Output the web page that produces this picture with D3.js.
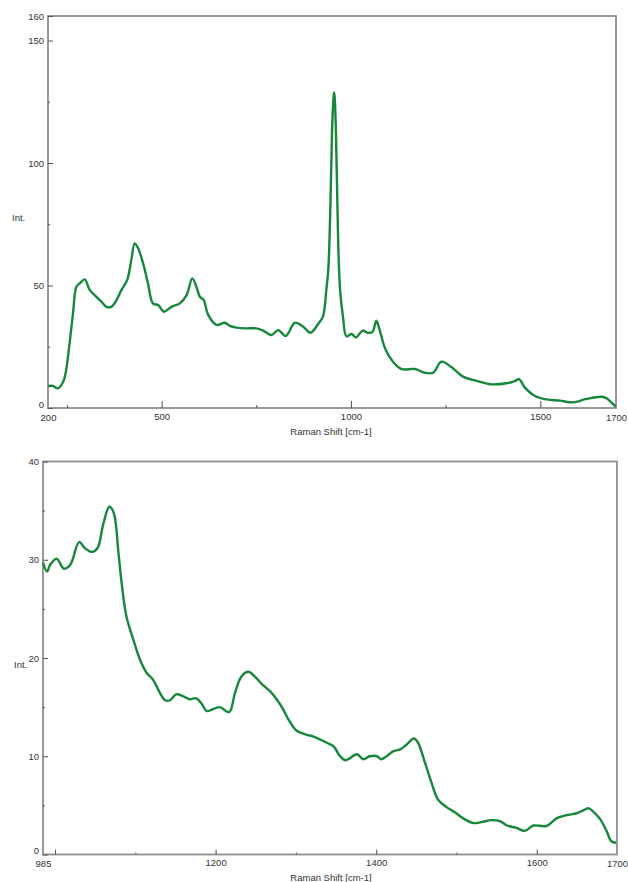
<!DOCTYPE html>
<html>
<head>
<meta charset="utf-8">
<script src="https://cdn.jsdelivr.net/npm/d3@7"></script>
<style>
  body { margin: 0; background: #fff; }
  svg text { font-family: "Liberation Sans", Arial, sans-serif; font-size: 9.5px; fill: #333; }
</style>
</head>
<body>
<script>
// Full spectrum (top panel)
let topShift = [200, 213, 226, 240, 248, 257, 266, 275, 284, 297, 310, 323, 341, 354, 367, 381, 394, 409, 420, 429, 438, 451, 464, 477, 491, 506, 526, 548, 566, 581, 592, 601, 611, 623, 645, 667, 680, 698, 724, 751, 768, 790, 808, 828, 852, 874, 893, 913, 926, 935, 940, 944, 948, 951, 954, 955.5, 957, 960, 963, 966, 969, 972, 979, 988, 1002, 1013, 1031, 1045, 1057, 1067, 1076, 1090, 1111, 1134, 1169, 1195, 1217, 1239, 1266, 1296, 1332, 1367, 1411, 1433, 1444, 1459, 1486, 1517, 1552, 1587, 1622, 1662, 1675, 1697, 1700];
let topInt = [9.0, 9.0, 8.0, 10.7, 15.5, 26.4, 38.6, 49.5, 50.9, 52.5, 48.2, 46.1, 43.4, 41.3, 41.3, 44.1, 48.2, 52.2, 60.4, 67.2, 65.2, 59.1, 50.9, 42.7, 42.0, 39.3, 41.3, 42.7, 46.1, 52.9, 49.5, 45.4, 44.1, 38.0, 33.9, 34.8, 33.5, 32.8, 32.5, 32.5, 31.6, 29.8, 31.8, 29.4, 34.8, 33.2, 30.7, 34.2, 37.3, 48.2, 56.0, 72.0, 98.0, 117.0, 126.5, 128.8, 127.0, 115.0, 93.0, 70.0, 55.0, 47.0, 37.3, 29.3, 30.2, 28.8, 31.6, 30.7, 31.1, 35.6, 31.8, 24.4, 18.9, 15.9, 15.9, 14.4, 14.4, 18.9, 16.6, 12.8, 11.1, 9.7, 10.1, 11.0, 11.8, 8.4, 4.9, 3.5, 3.0, 2.3, 3.7, 4.6, 4.0, 0.9, 0.6];

// Zoomed region 985-1700 (bottom panel)
let botShift = [985, 990, 994, 1002, 1011, 1019, 1030, 1037, 1046, 1053, 1060, 1067.6, 1073, 1079, 1083, 1089, 1097, 1106, 1114, 1122, 1131, 1137, 1143, 1151, 1160, 1168, 1176, 1183, 1189, 1197, 1205, 1217, 1224, 1232, 1241, 1249, 1257, 1268, 1276, 1284, 1291, 1301, 1313, 1322, 1338, 1347, 1355, 1362, 1376, 1384, 1392, 1401, 1406, 1413, 1421, 1430, 1438, 1447, 1452, 1461, 1469, 1477, 1488, 1498, 1508, 1521, 1531, 1544, 1554, 1563, 1575, 1585, 1596, 1612, 1625, 1637, 1650, 1658, 1665, 1670, 1679, 1687, 1693, 1699];
let botInt = [29.7, 28.8, 29.5, 30.1, 29.1, 29.5, 31.8, 31.2, 30.8, 31.2, 33.6, 35.4, 34.8, 30.7, 27.6, 24.2, 22.0, 19.8, 18.5, 17.8, 16.4, 15.7, 15.7, 16.3, 16.1, 15.8, 15.9, 15.3, 14.6, 14.8, 15.0, 14.5, 16.4, 18.1, 18.6, 18.1, 17.4, 16.6, 15.8, 14.8, 13.7, 12.6, 12.2, 12.0, 11.4, 11.0, 10.0, 9.6, 10.2, 9.7, 10.0, 10.0, 9.7, 10.0, 10.5, 10.7, 11.2, 11.8, 11.4, 9.3, 7.3, 5.6, 4.8, 4.3, 3.7, 3.2, 3.3, 3.5, 3.4, 2.95, 2.7, 2.4, 2.95, 2.9, 3.7, 4.0, 4.2, 4.5, 4.7, 4.4, 3.6, 2.4, 1.35, 1.2];

// Tick values
let topXMajor = [500, 1000, 1500];
let topXMinor = [250, 750, 1250];
let topXEnds = [200, 1700];
let topYMajor = [0, 50, 100, 150, 160];
let topYMinor = [25, 75, 125];
let botXMajor = [1000, 1200, 1400, 1600];
let botXMinor = [1100, 1300, 1500];
let botXLabels = [1200, 1400, 1600];
let botXEnds = [985, 1700];
let botYMajor = [0, 10, 20, 30, 40];
let botYMinor = [5, 15, 25, 35];

let svg = d3.select("body").append("svg")
    .attr("width", 628)
    .attr("height", 882);

function panel(cfg) {
    let x = d3.scaleLinear().domain(cfg.xDomain).range([cfg.left, cfg.right]);
    let y = d3.scaleLinear().domain(cfg.yDomain).range([cfg.bottom, cfg.top]);
    let g = svg.append("g");

    // frame
    g.append("rect")
        .attr("x", cfg.left).attr("y", cfg.top)
        .attr("width", cfg.right - cfg.left).attr("height", cfg.bottom - cfg.top)
        .attr("fill", "none").attr("stroke", "#8e8e8e").attr("stroke-width", 1.8);

    // x ticks (inward)
    g.append("g").attr("transform", "translate(0," + cfg.bottom + ")")
        .call(d3.axisBottom(x).tickValues(cfg.xMajor).tickSize(-cfg.majorLen).tickPadding(5)
            .tickFormat(d => cfg.xLabels.includes(d) ? d : ""));
    g.append("g").attr("transform", "translate(0," + cfg.bottom + ")")
        .call(d3.axisBottom(x).tickValues(cfg.xMinor).tickSize(-cfg.minorLen).tickFormat(""));
    g.append("g").attr("transform", "translate(0," + cfg.bottom + ")")
        .call(d3.axisBottom(x).tickValues(cfg.xEnds).tickSize(0).tickPadding(6).tickFormat(d => d));

    // y ticks (inward)
    let yAx = g.append("g").attr("transform", "translate(" + cfg.left + ",0)")
        .call(d3.axisLeft(y).tickValues(cfg.yMajor).tickSize(-5).tickPadding(4));
    g.append("g").attr("transform", "translate(" + cfg.left + ",0)")
        .call(d3.axisLeft(y).tickValues(cfg.yMinor).tickSize(-2).tickFormat(""));

    // the "0" sits just above the first x label
    yAx.selectAll(".tick").filter(d => d === 0).select("text").attr("dy", "-0.1em");

    g.selectAll(".domain").remove();
    g.selectAll(".tick line").attr("stroke", "#555").attr("stroke-width", 1);
    g.selectAll(".tick text").attr("fill", "#333").style("font-size", "9.5px")
        .style("font-family", "'Liberation Sans', Arial, sans-serif");

    // spectrum
    let line = d3.line()
        .x((d, i) => x(cfg.xs[i]))
        .y(d => y(d))
        .curve(d3.curveCatmullRom.alpha(0.5));
    g.append("path")
        .datum(cfg.ys)
        .attr("d", line)
        .attr("fill", "none")
        .attr("stroke", "#17873b")
        .attr("stroke-width", 2.4)
        .attr("stroke-linejoin", "round");

    // axis titles
    g.append("text").attr("x", cfg.intX).attr("y", cfg.intY).text("Int.");
    g.append("text").attr("x", 331).attr("y", cfg.xTitleY)
        .attr("text-anchor", "middle").text("Raman Shift [cm-1]");
}

panel({
    xDomain: [200, 1700], yDomain: [0, 160],
    left: 48, right: 616, top: 16, bottom: 408,
    xs: topShift, ys: topInt,
    xMajor: topXMajor, xMinor: topXMinor, xEnds: topXEnds, xLabels: topXMajor,
    yMajor: topYMajor, yMinor: topYMinor,
    majorLen: 7, minorLen: 3,
    intX: 12, intY: 221, xTitleY: 435
});

panel({
    xDomain: [985, 1700], yDomain: [0, 40],
    left: 43, right: 617, top: 461.5, bottom: 854.5,
    xs: botShift, ys: botInt,
    xMajor: botXMajor, xMinor: botXMinor, xEnds: botXEnds, xLabels: botXLabels,
    yMajor: botYMajor, yMinor: botYMinor,
    majorLen: 5, minorLen: 2,
    intX: 14, intY: 668, xTitleY: 881
});
</script>
</body>
</html>
